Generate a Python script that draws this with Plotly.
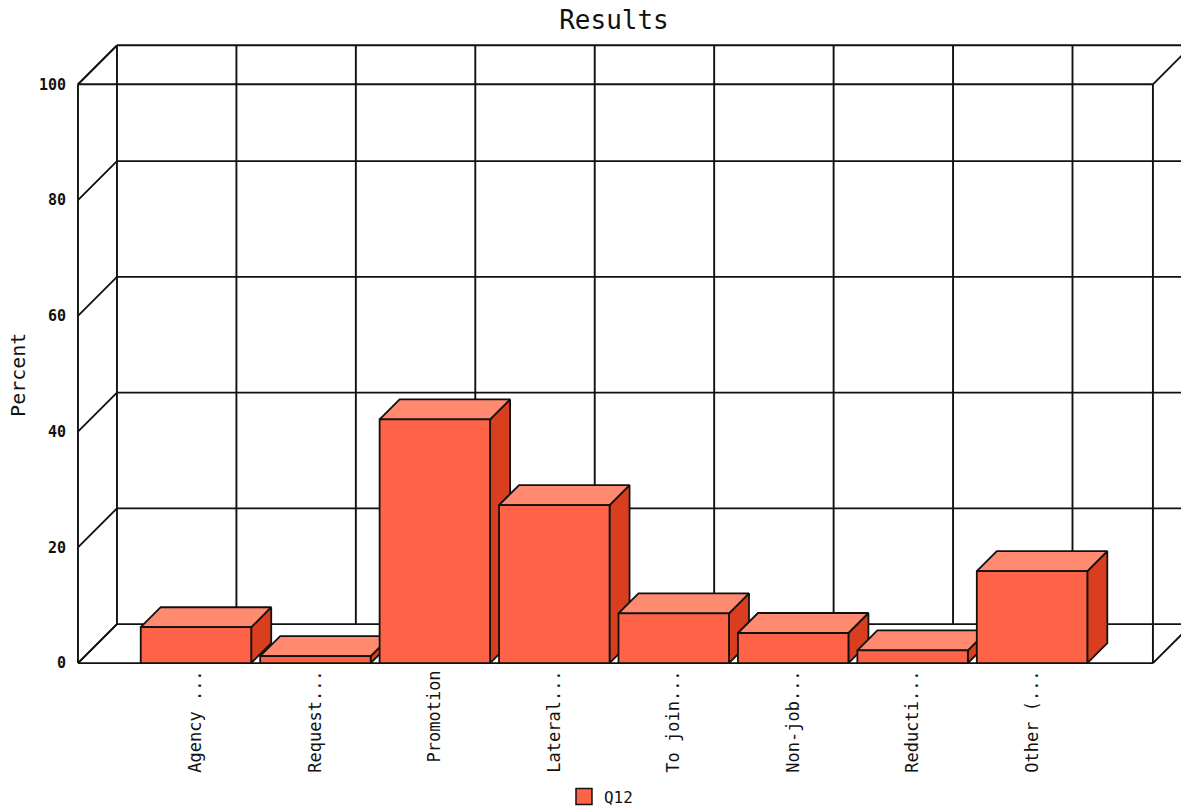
import plotly.graph_objects as go

categories = ["Agency ...", "Request...", "Promotion", "Lateral...",
              "To join...", "Non-job...", "Reducti...", "Other (..."]
values = [6.2, 1.2, 42.1, 27.3, 8.6, 5.2, 2.2, 15.9]
y_ticks = [0, 20, 40, 60, 80, 100]
series_name = "Q12"

FACE = "#FF6347"
TOP = "#FF8A70"
SIDE = "#D93E1E"
INK = "#111111"
MONO = "DejaVu Sans Mono, monospace"

# geometry of the pseudo-3D box, expressed in axis units
UNIT_X = 119.44          # px per slot
UNIT_Y = 5.79            # px per percent
WALL_DX = 39 / UNIT_X
WALL_DY = 39 / UNIT_Y
BAR_DX = 20 / UNIT_X
BAR_DY = 20 / UNIT_Y
BAR_W = 110.5 / UNIT_X
SLOTS = len(categories) + 1
X0, X1 = -0.05, 9.235
Y0, Y1 = -0.5, 100 + WALL_DY + 0.4
centers = [i + 1 - 0.012 for i in range(len(categories))]

fig = go.Figure()

# wall and floor grid
gx, gy = [], []
def seg(x_a, y_a, x_b, y_b):
    gx.extend([x_a, x_b, None])
    gy.extend([y_a, y_b, None])

for t in y_ticks:
    seg(WALL_DX, t + WALL_DY, SLOTS + WALL_DX, t + WALL_DY)   # back wall
    seg(0, t, WALL_DX, t + WALL_DY)                           # left wall
for k in range(SLOTS):
    seg(WALL_DX + k, WALL_DY, WALL_DX + k, 100 + WALL_DY)     # back verticals
for xf in (0, SLOTS):
    seg(xf, 0, xf, 100)
    seg(xf, 0, xf + WALL_DX, WALL_DY)
    seg(xf, 100, xf + WALL_DX, 100 + WALL_DY)
seg(0, 0, SLOTS, 0)
seg(0, 100, SLOTS, 100)
fig.add_trace(go.Scatter(x=gx, y=gy, mode="lines", showlegend=False, hoverinfo="skip",
                         line=dict(color=INK, width=1.9)))

# bars: drawn left to right so that each one hides the back of the previous one
for i, (cat, cx, v) in enumerate(zip(categories, centers, values)):
    a, b = cx - BAR_W / 2, cx + BAR_W / 2
    faces = [
        ([b, b + BAR_DX, b + BAR_DX, b, b], [0, BAR_DY, v + BAR_DY, v, 0], SIDE),
        ([a, a + BAR_DX, b + BAR_DX, b, a], [v, v + BAR_DY, v + BAR_DY, v, v], TOP),
    ]
    for fx, fy, col in faces:
        fig.add_trace(go.Scatter(x=fx, y=fy, mode="lines", fill="toself", fillcolor=col,
                                 line=dict(color=INK, width=1.8), showlegend=False,
                                 hoverinfo="skip"))
    fig.add_trace(go.Scatter(x=[a, b, b, a, a], y=[0, 0, v, v, 0], mode="lines",
                             fill="toself", fillcolor=FACE,
                             line=dict(color=INK, width=1.8),
                             showlegend=False,
                             text=cat, hoverinfo="text+y"))

# legend key for the series
fig.add_trace(go.Scatter(x=[None], y=[None], mode="markers", name=series_name,
                         marker=dict(symbol="square", size=18, color=FACE,
                                     line=dict(color=INK, width=1.5))))

L = 78 + X0 * UNIT_X
B = 806 - (663 - Y0 * UNIT_Y)

fig.update_layout(
    width=1181, height=806,
    margin=dict(l=L, r=0, t=663 - Y1 * UNIT_Y, b=B, pad=0, autoexpand=False),
    paper_bgcolor="white", plot_bgcolor="white",
    font=dict(family=MONO, color="#111111"),
    title=dict(text="Results", x=614 / 1181, xanchor="center", y=1 - 20 / 806, yanchor="middle",
               xref="container", yref="container", font=dict(size=26, family=MONO, color=INK)),
    xaxis=dict(range=[X0, X1], tickmode="array", tickvals=centers, ticktext=categories,
               tickangle=-90, ticks="", ticklabelstandoff=0,
               tickfont=dict(size=17, family=MONO, color=INK),
               showgrid=False, zeroline=False, showline=False, fixedrange=True),
    yaxis=dict(range=[Y0, Y1], tickmode="array", tickvals=y_ticks,
               ticks="outside", ticklen=2, tickcolor="white",
               tickfont=dict(size=15, family=MONO, color=INK, weight="bold"),
               showgrid=False, zeroline=False, showline=False, fixedrange=True),
    legend=dict(x=(564 - L) / (1181 - L), xanchor="left", y=1 - (775 - 42) / 620,
                yanchor="top", orientation="h", bgcolor="rgba(0,0,0,0)",
                font=dict(size=16, family=MONO, color=INK), itemwidth=30),
    annotations=[dict(text="Percent", xref="paper", yref="paper",
                      x=-(L - 18) / (1181 - L), xanchor="center",
                      y=(663 - 376) / 620.9 + 0.005, yanchor="middle", textangle=-90,
                      showarrow=False, font=dict(size=20, family=MONO, color=INK))],
)

fig.write_html("out.html", config={"displayModeBar": False},
               post_script="document.body.style.margin='0';")
